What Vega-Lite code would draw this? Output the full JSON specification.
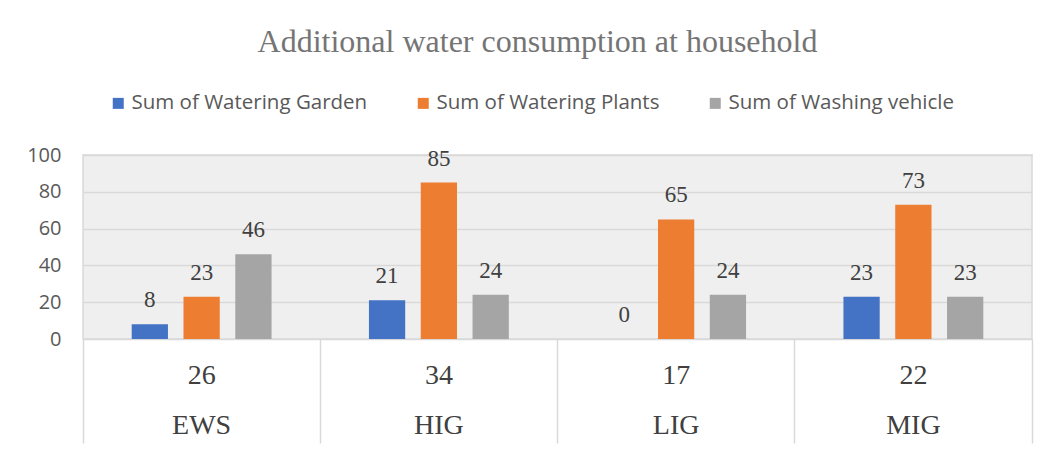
{
  "$schema": "https://vega.github.io/schema/vega-lite/v6.json",
  "width": 949,
  "height": 184,
  "autosize": {"type": "none"},
  "padding": {"left": 83, "top": 155, "right": 24, "bottom": 115},
  "background": "white",
  "title": {
    "text": "Additional water consumption at household",
    "font": "Liberation Serif",
    "fontSize": 32,
    "fontWeight": "normal",
    "color": "#757575",
    "anchor": "middle",
    "frame": "group",
    "dx": -20,
    "offset": 34
  },
  "data": {
    "values": [
      {"category": "26|EWS", "group": "EWS", "households": 26, "series": "Sum of Watering Garden", "value": 8},
      {"category": "26|EWS", "group": "EWS", "households": 26, "series": "Sum of Watering Plants", "value": 23},
      {"category": "26|EWS", "group": "EWS", "households": 26, "series": "Sum of Washing vehicle", "value": 46},
      {"category": "34|HIG", "group": "HIG", "households": 34, "series": "Sum of Watering Garden", "value": 21},
      {"category": "34|HIG", "group": "HIG", "households": 34, "series": "Sum of Watering Plants", "value": 85},
      {"category": "34|HIG", "group": "HIG", "households": 34, "series": "Sum of Washing vehicle", "value": 24},
      {"category": "17|LIG", "group": "LIG", "households": 17, "series": "Sum of Watering Garden", "value": 0},
      {"category": "17|LIG", "group": "LIG", "households": 17, "series": "Sum of Watering Plants", "value": 65},
      {"category": "17|LIG", "group": "LIG", "households": 17, "series": "Sum of Washing vehicle", "value": 24},
      {"category": "22|MIG", "group": "MIG", "households": 22, "series": "Sum of Watering Garden", "value": 23},
      {"category": "22|MIG", "group": "MIG", "households": 22, "series": "Sum of Watering Plants", "value": 73},
      {"category": "22|MIG", "group": "MIG", "households": 22, "series": "Sum of Washing vehicle", "value": 23}
    ]
  },
  "encoding": {
    "x": {
      "field": "category",
      "type": "nominal",
      "sort": null,
      "scale": {"paddingInner": 0, "paddingOuter": 0},
      "axis": {
        "title": null,
        "domain": false,
        "grid": false,
        "bandPosition": 1,
        "tickExtra": true,
        "ticks": true,
        "tickSize": 104,
        "tickColor": "#d9d9d9",
        "tickWidth": 1.5,
        "labelExpr": "datum.value ? split(datum.value, '|') : ''",
        "labelDx": -118.6,
        "labelPadding": -68,
        "labelBaseline": "middle",
        "labelLineHeight": 50,
        "labelAngle": 0,
        "labelFont": "Liberation Serif",
        "labelFontSize": 28,
        "labelColor": "#404040"
      }
    },
    "xOffset": {
      "field": "series",
      "type": "nominal",
      "sort": ["Sum of Watering Garden", "Sum of Watering Plants", "Sum of Washing vehicle"],
      "scale": {"paddingInner": 0.3, "paddingOuter": 0.94}
    },
    "y": {
      "field": "value",
      "type": "quantitative",
      "scale": {"domain": [0, 100], "nice": false},
      "axis": {
        "title": null,
        "values": [0, 20, 40, 60, 80, 100],
        "domain": false,
        "ticks": false,
        "grid": true,
        "gridColor": "#d9d9d9",
        "gridWidth": 1.5,
        "labelPadding": 22,
        "labelFont": "Open Sans",
        "labelFontSize": 20,
        "labelColor": "#595959"
      }
    }
  },
  "layer": [
    {
      "mark": {"type": "bar"},
      "encoding": {
        "color": {
          "field": "series",
          "type": "nominal",
          "sort": ["Sum of Watering Garden", "Sum of Watering Plants", "Sum of Washing vehicle"],
          "scale": {
            "domain": ["Sum of Watering Garden", "Sum of Watering Plants", "Sum of Washing vehicle"],
            "range": ["#4472C4", "#ED7D31", "#A5A5A5"]
          },
          "legend": {
            "title": null,
            "orient": "none",
            "direction": "horizontal",
            "legendX": 25,
            "legendY": -62,
            "symbolType": "square",
            "symbolSize": 121,
            "symbolStrokeWidth": 0,
            "labelFont": "Open Sans",
            "labelFontSize": 20.5,
            "labelLimit": 400,
            "labelColor": "#595959",
            "labelOffset": 3,
            "columnPadding": 45
          }
        }
      }
    },
    {
      "mark": {
        "type": "text",
        "baseline": "middle",
        "dy": -24,
        "font": "Liberation Serif",
        "fontSize": 23,
        "color": "#404040"
      },
      "encoding": {
        "text": {"field": "value", "type": "quantitative"}
      }
    }
  ],
  "config": {
    "view": {"fill": "#efefef", "stroke": "#d9d9d9", "strokeWidth": 1.5}
  }
}
